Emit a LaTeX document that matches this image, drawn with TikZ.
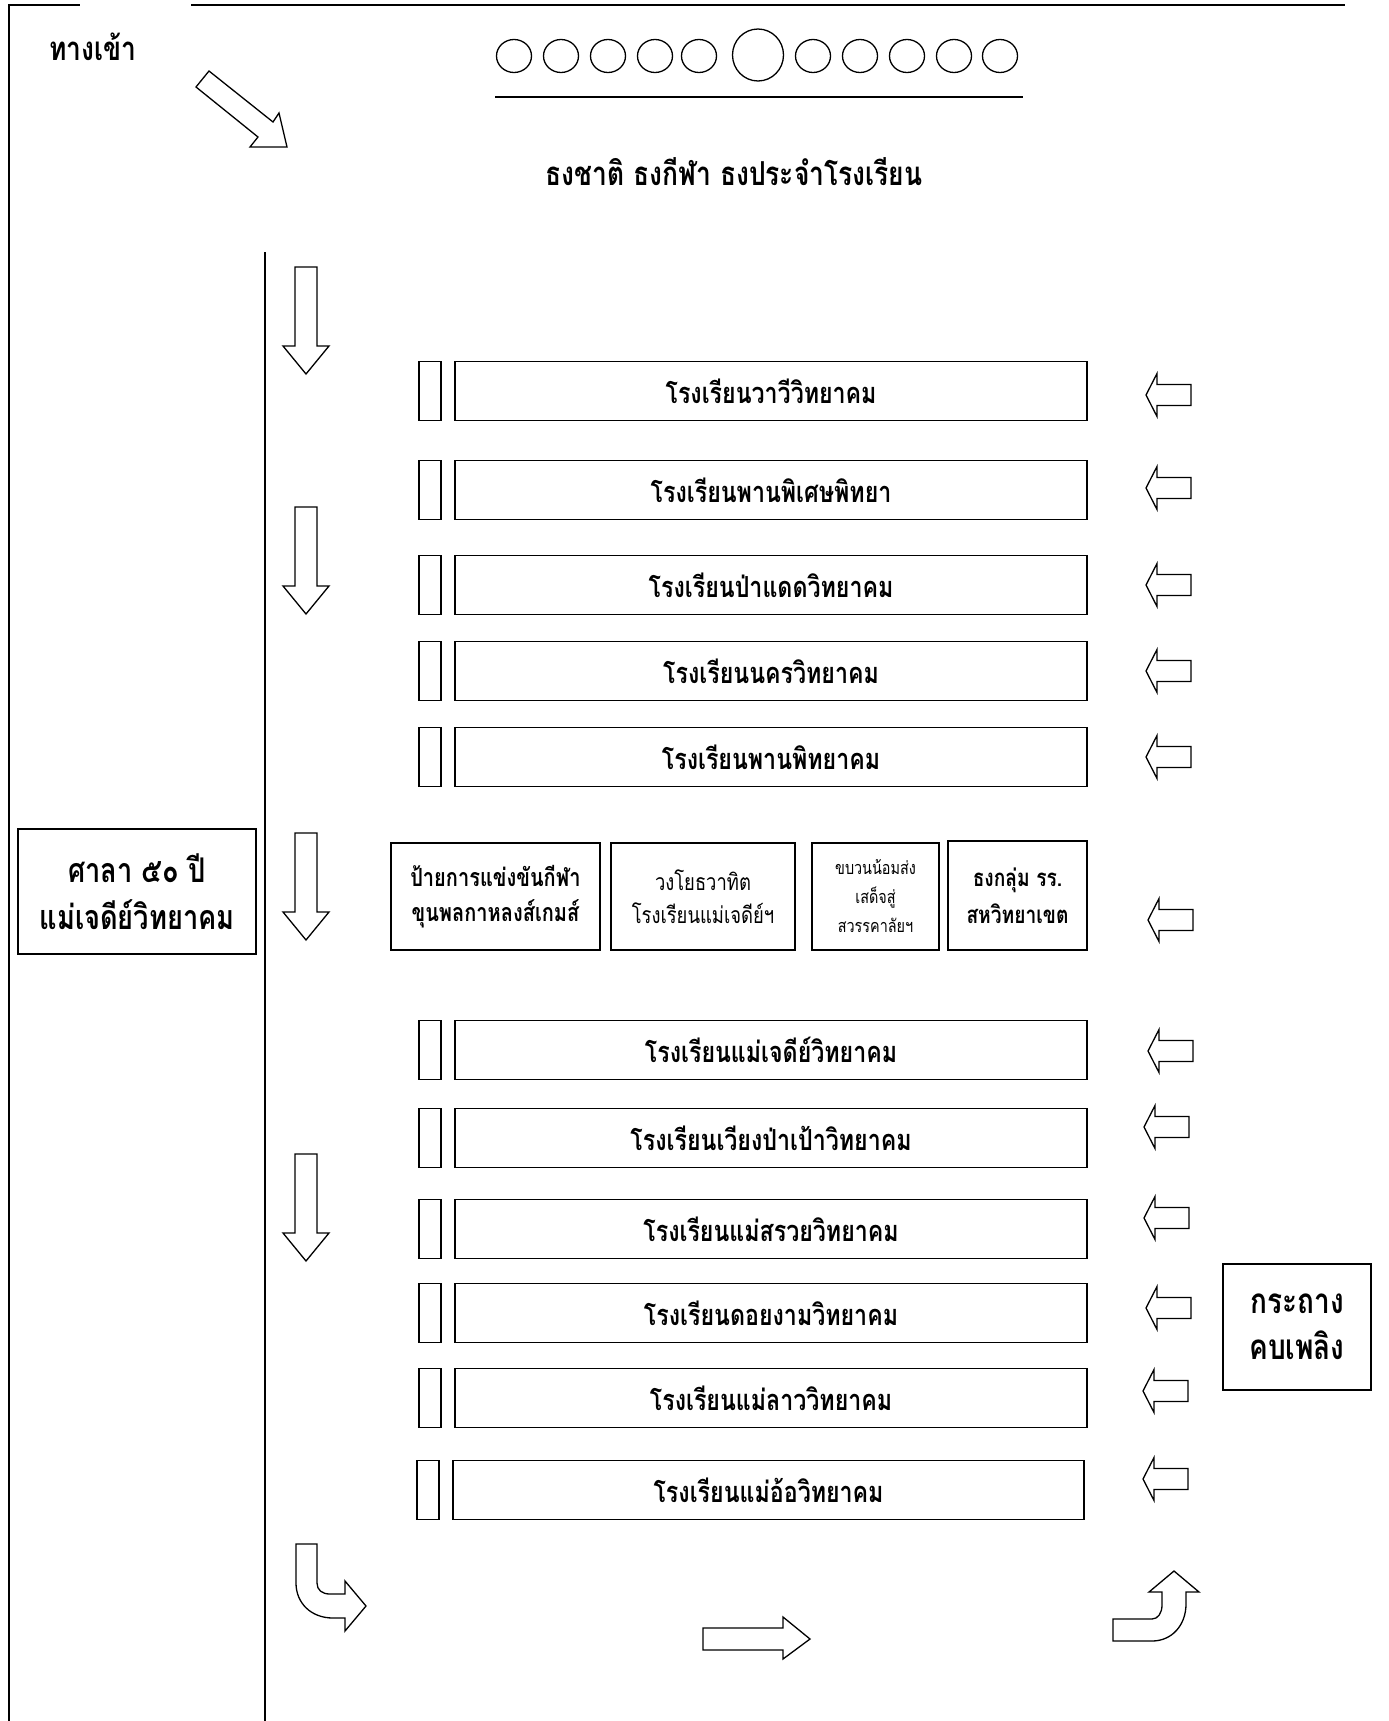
\documentclass[tikz,border=0pt]{standalone}
\usepackage{fontspec}
\newfontfamily\thai[Script=Thai,FakeStretch=0.8]{Loma}
\begin{document}
\begin{tikzpicture}[x=1pt,y=-1pt,
  frame/.style={line width=1.8pt},
  bx/.style={draw, line width=1.6pt, inner sep=0pt, align=center},
  sname/.style={bx, font=\thai\bfseries\fontsize{29}{32}\selectfont},
  tab/.style={bx, line width=1.4pt},
  blockarrow/.style={draw, line width=1.3pt, fill=white, line join=miter},
  leftarr/.pic={\draw[blockarrow] (0,0) -- (11,-21.5) -- (11,-10.5) -- (45,-10.5) -- (45,10.5) -- (11,10.5) -- (11,21.5) -- cycle;},
  downarr/.pic={\draw[blockarrow] (-11,0) -- (11,0) -- (11,79) -- (23,79) -- (0,107) -- (-23,79) -- (-11,79) -- cycle;},
  ring/.style={draw, line width=1.3pt},
]
\useasboundingbox (0,0) rectangle (1389,1721);
% frame lines
\draw[frame] (9,1721) -- (9,5) -- (80,5);
\draw[frame] (191,5) -- (1345,5);
\draw[frame] (265,252) -- (265,1721);
% entrance
\node[font=\thai\bfseries\fontsize{33}{36}\selectfont] (entry) at (93,47) {ทางเข้า};
\draw[blockarrow] (209,71) -- (273,122) -- (279,113) -- (287,147) -- (250,147) -- (258,137) -- (196,87) -- cycle;
% flag poles
\foreach \cx [count=\k] in {514,561,608,655,699,813,860,907,954,1000}
  \draw[ring] (\cx,56) ellipse [x radius=17.5, y radius=16.5];
\draw[ring] (758,55) ellipse [x radius=25.5, y radius=26];
\draw[frame] (495,97) -- (1023,97);
\node[font=\thai\bfseries\fontsize{33}{36}\selectfont] (flags) at (734,172) {ธงชาติ ธงกีฬา ธงประจำโรงเรียน};
% school rows
\foreach \i/\y/\n in {1/391/โรงเรียนวาวีวิทยาคม, 2/490/โรงเรียนพานพิเศษพิทยา, 3/585/โรงเรียนป่าแดดวิทยาคม, 4/671/โรงเรียนนครวิทยาคม, 5/757/โรงเรียนพานพิทยาคม, 6/1050/โรงเรียนแม่เจดีย์วิทยาคม, 7/1138/โรงเรียนเวียงป่าเป้าวิทยาคม, 8/1229/โรงเรียนแม่สรวยวิทยาคม, 9/1313/โรงเรียนดอยงามวิทยาคม, 10/1398/โรงเรียนแม่ลาววิทยาคม}{
  \node[sname, minimum width=632pt, minimum height=59pt] (r\i) at (771,\y) {\n};
  \node[tab, minimum width=22pt, minimum height=59pt] (t\i) at (430,\y) {};
}
\node[sname, minimum width=631pt, minimum height=59pt] (r11) at (768.5,1490) {โรงเรียนแม่อ้อวิทยาคม};
\node[tab, minimum width=22pt, minimum height=59pt] (t11) at (428,1490) {};
% special row
\node[bx, font=\thai\bfseries\fontsize{25}{35}\selectfont, minimum width=209pt, minimum height=107pt] (sign) at (495.5,896.5) {ป้ายการแข่งขันกีฬา\\ขุนพลกาหลงส์เกมส์};
\node[bx, font=\thai\fontsize{23}{33}\selectfont, minimum width=184pt, minimum height=107pt] (band) at (703,896.5) {วงโยธวาทิต\\โรงเรียนแม่เจดีย์ฯ};
\node[bx, font=\thai\fontsize{18}{29}\selectfont, minimum width=127pt, minimum height=107pt] (procession) at (875.5,896.5) {ขบวนน้อมส่ง\\เสด็จสู่\\สวรรคาลัยฯ};
\node[bx, font=\thai\bfseries\fontsize{24}{37}\selectfont, minimum width=139pt, minimum height=109pt] (groupflag) at (1017.5,895.5) {ธงกลุ่ม รร.\\สหวิทยาเขต};
\node[bx, font=\thai\bfseries\fontsize{34}{47}\selectfont, minimum width=238pt, minimum height=125pt] (sala) at (137,891.5) {ศาลา ๕๐ ปี\\แม่เจดีย์วิทยาคม};
\node[bx, font=\thai\bfseries\fontsize{35}{46}\selectfont, minimum width=148pt, minimum height=126pt] (torch) at (1297,1327) {กระถาง\\คบเพลิง};
% down arrows
\foreach \t in {267,507,833,1154}
  \pic at (306,\t) {downarr};
% left arrows
\foreach \x/\y in {1146/395,1146/488,1146/585,1146/671,1146/757,1148/920,1148/1051,1144/1127,1144/1218,1146/1308,1143/1391,1143/1479}
  \pic at (\x,\y) {leftarr};
% bottom arrows
\draw[blockarrow] (296,1544) -- (317,1544) -- (317,1583) .. controls (317,1590) and (322,1594) .. (330,1594) -- (345,1594) -- (345,1581) -- (366,1606) -- (345,1631) -- (345,1618) -- (333,1618) .. controls (311,1618) and (296,1603) .. (296,1583) -- cycle;
\draw[blockarrow] (703,1628) -- (783,1628) -- (783,1617) -- (810,1639) -- (783,1659) -- (783,1650) -- (703,1650) -- cycle;
\draw[blockarrow] (1113,1619) -- (1152,1619) .. controls (1158,1619) and (1162,1613) .. (1162,1605) -- (1162,1592) -- (1149,1592) -- (1174,1571) -- (1199,1592) -- (1186,1592) -- (1186,1604) .. controls (1186,1625) and (1172,1641) .. (1152,1641) -- (1113,1641) -- cycle;
\end{tikzpicture}
\end{document}
